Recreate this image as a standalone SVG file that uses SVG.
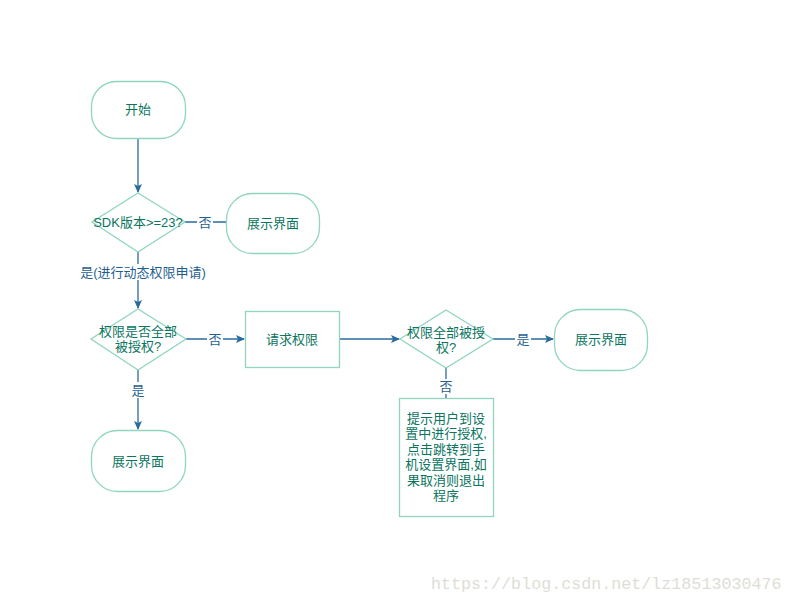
<svg xmlns="http://www.w3.org/2000/svg" width="793" height="604" viewBox="0 0 793 604">
<style>
.shape{fill:#fff;stroke:#8fd6bd;stroke-width:1.3}
.t{font-family:"Liberation Sans","Noto Sans CJK SC",sans-serif;font-size:13px;fill:#0b7560;text-anchor:middle;dominant-baseline:central}
.lbl{font-family:"Liberation Sans","Noto Sans CJK SC",sans-serif;font-size:13px;fill:#1f5f8f;text-anchor:middle;dominant-baseline:central}
.c{stroke:#2a6a9c;stroke-width:1.3;fill:none}
.wm{font-family:"Liberation Mono",monospace;font-size:16.7px;fill:#deded6}
</style>
<defs>
<marker id="a" markerWidth="10" markerHeight="10" refX="8" refY="4" orient="auto" markerUnits="userSpaceOnUse">
<path d="M0,0 L9,4 L0,8 L2,4 Z" fill="#2a6a9c"/>
</marker>
</defs>
<rect width="793" height="604" fill="#fff"/>
<g id="connectors">
<line class="c" x1="138" y1="138" x2="138" y2="192" marker-end="url(#a)"/>
<line class="c" x1="185" y1="222" x2="226" y2="222"/>
<rect x="197" y="214" width="16" height="16" fill="#fff"/>
<text class="lbl" x="205" y="222">否</text>
<line class="c" x1="138" y1="252" x2="138" y2="308" marker-end="url(#a)"/>
<rect x="72" y="264" width="144" height="16" fill="#fff"/>
<text class="lbl" x="143" y="272">是(进行动态权限申请)</text>
<line class="c" x1="186" y1="339" x2="244" y2="339" marker-end="url(#a)"/>
<rect x="207" y="331" width="16" height="16" fill="#fff"/>
<text class="lbl" x="215" y="339">否</text>
<line class="c" x1="340" y1="339" x2="399" y2="339" marker-end="url(#a)"/>
<line class="c" x1="493" y1="339" x2="553" y2="339" marker-end="url(#a)"/>
<rect x="515" y="331" width="16" height="16" fill="#fff"/>
<text class="lbl" x="523" y="339">是</text>
<line class="c" x1="446" y1="368" x2="446" y2="398"/>
<rect x="438" y="379" width="16" height="15" fill="#fff"/>
<text class="lbl" x="446" y="386">否</text>
<line class="c" x1="138" y1="370" x2="138" y2="429" marker-end="url(#a)"/>
<rect x="130" y="382" width="16" height="16" fill="#fff"/>
<text class="lbl" x="138" y="390">是</text>
</g>
<g id="start">
<rect class="shape" x="91.5" y="81.5" width="94" height="57" rx="25"/>
<text class="t" x="138" y="109">开始</text>
</g>
<g id="check-sdk">
<polygon class="shape" points="138,193 185,222 138,252 92,222"/>
<text class="t" x="138" y="222">SDK版本&gt;=23?</text>
</g>
<g id="show1">
<rect class="shape" x="226.5" y="193.5" width="93" height="60" rx="26"/>
<text class="t" x="273" y="223">展示界面</text>
</g>
<g id="check-all">
<polygon class="shape" points="138,309 186,339 138,370 91,339"/>
<text class="t" x="138" y="331">权限是否全部</text>
<text class="t" x="138" y="346">被授权?</text>
</g>
<g id="request">
<rect class="shape" x="245.5" y="311.5" width="94" height="56"/>
<text class="t" x="292" y="339">请求权限</text>
</g>
<g id="check-granted">
<polygon class="shape" points="446,310 493,339 446,368 400,339"/>
<text class="t" x="446" y="332">权限全部被授</text>
<text class="t" x="446" y="347">权?</text>
</g>
<g id="show3">
<rect class="shape" x="554.5" y="309.5" width="93" height="61" rx="26"/>
<text class="t" x="601" y="339">展示界面</text>
</g>
<g id="show2">
<rect class="shape" x="91.5" y="430.5" width="94" height="61" rx="26"/>
<text class="t" x="138" y="461">展示界面</text>
</g>
<g id="prompt">
<rect class="shape" x="399.5" y="398.5" width="94" height="118"/>
<text class="t" x="446" y="418">提示用户到设</text>
<text class="t" x="446" y="433.5">置中进行授权,</text>
<text class="t" x="446" y="449">点击跳转到手</text>
<text class="t" x="446" y="464.5">机设置界面,如</text>
<text class="t" x="446" y="480">果取消则退出</text>
<text class="t" x="446" y="495.5">程序</text>
</g>
<text class="wm" x="431" y="589">https://blog.csdn.net/lz18513030476</text>
</svg>
